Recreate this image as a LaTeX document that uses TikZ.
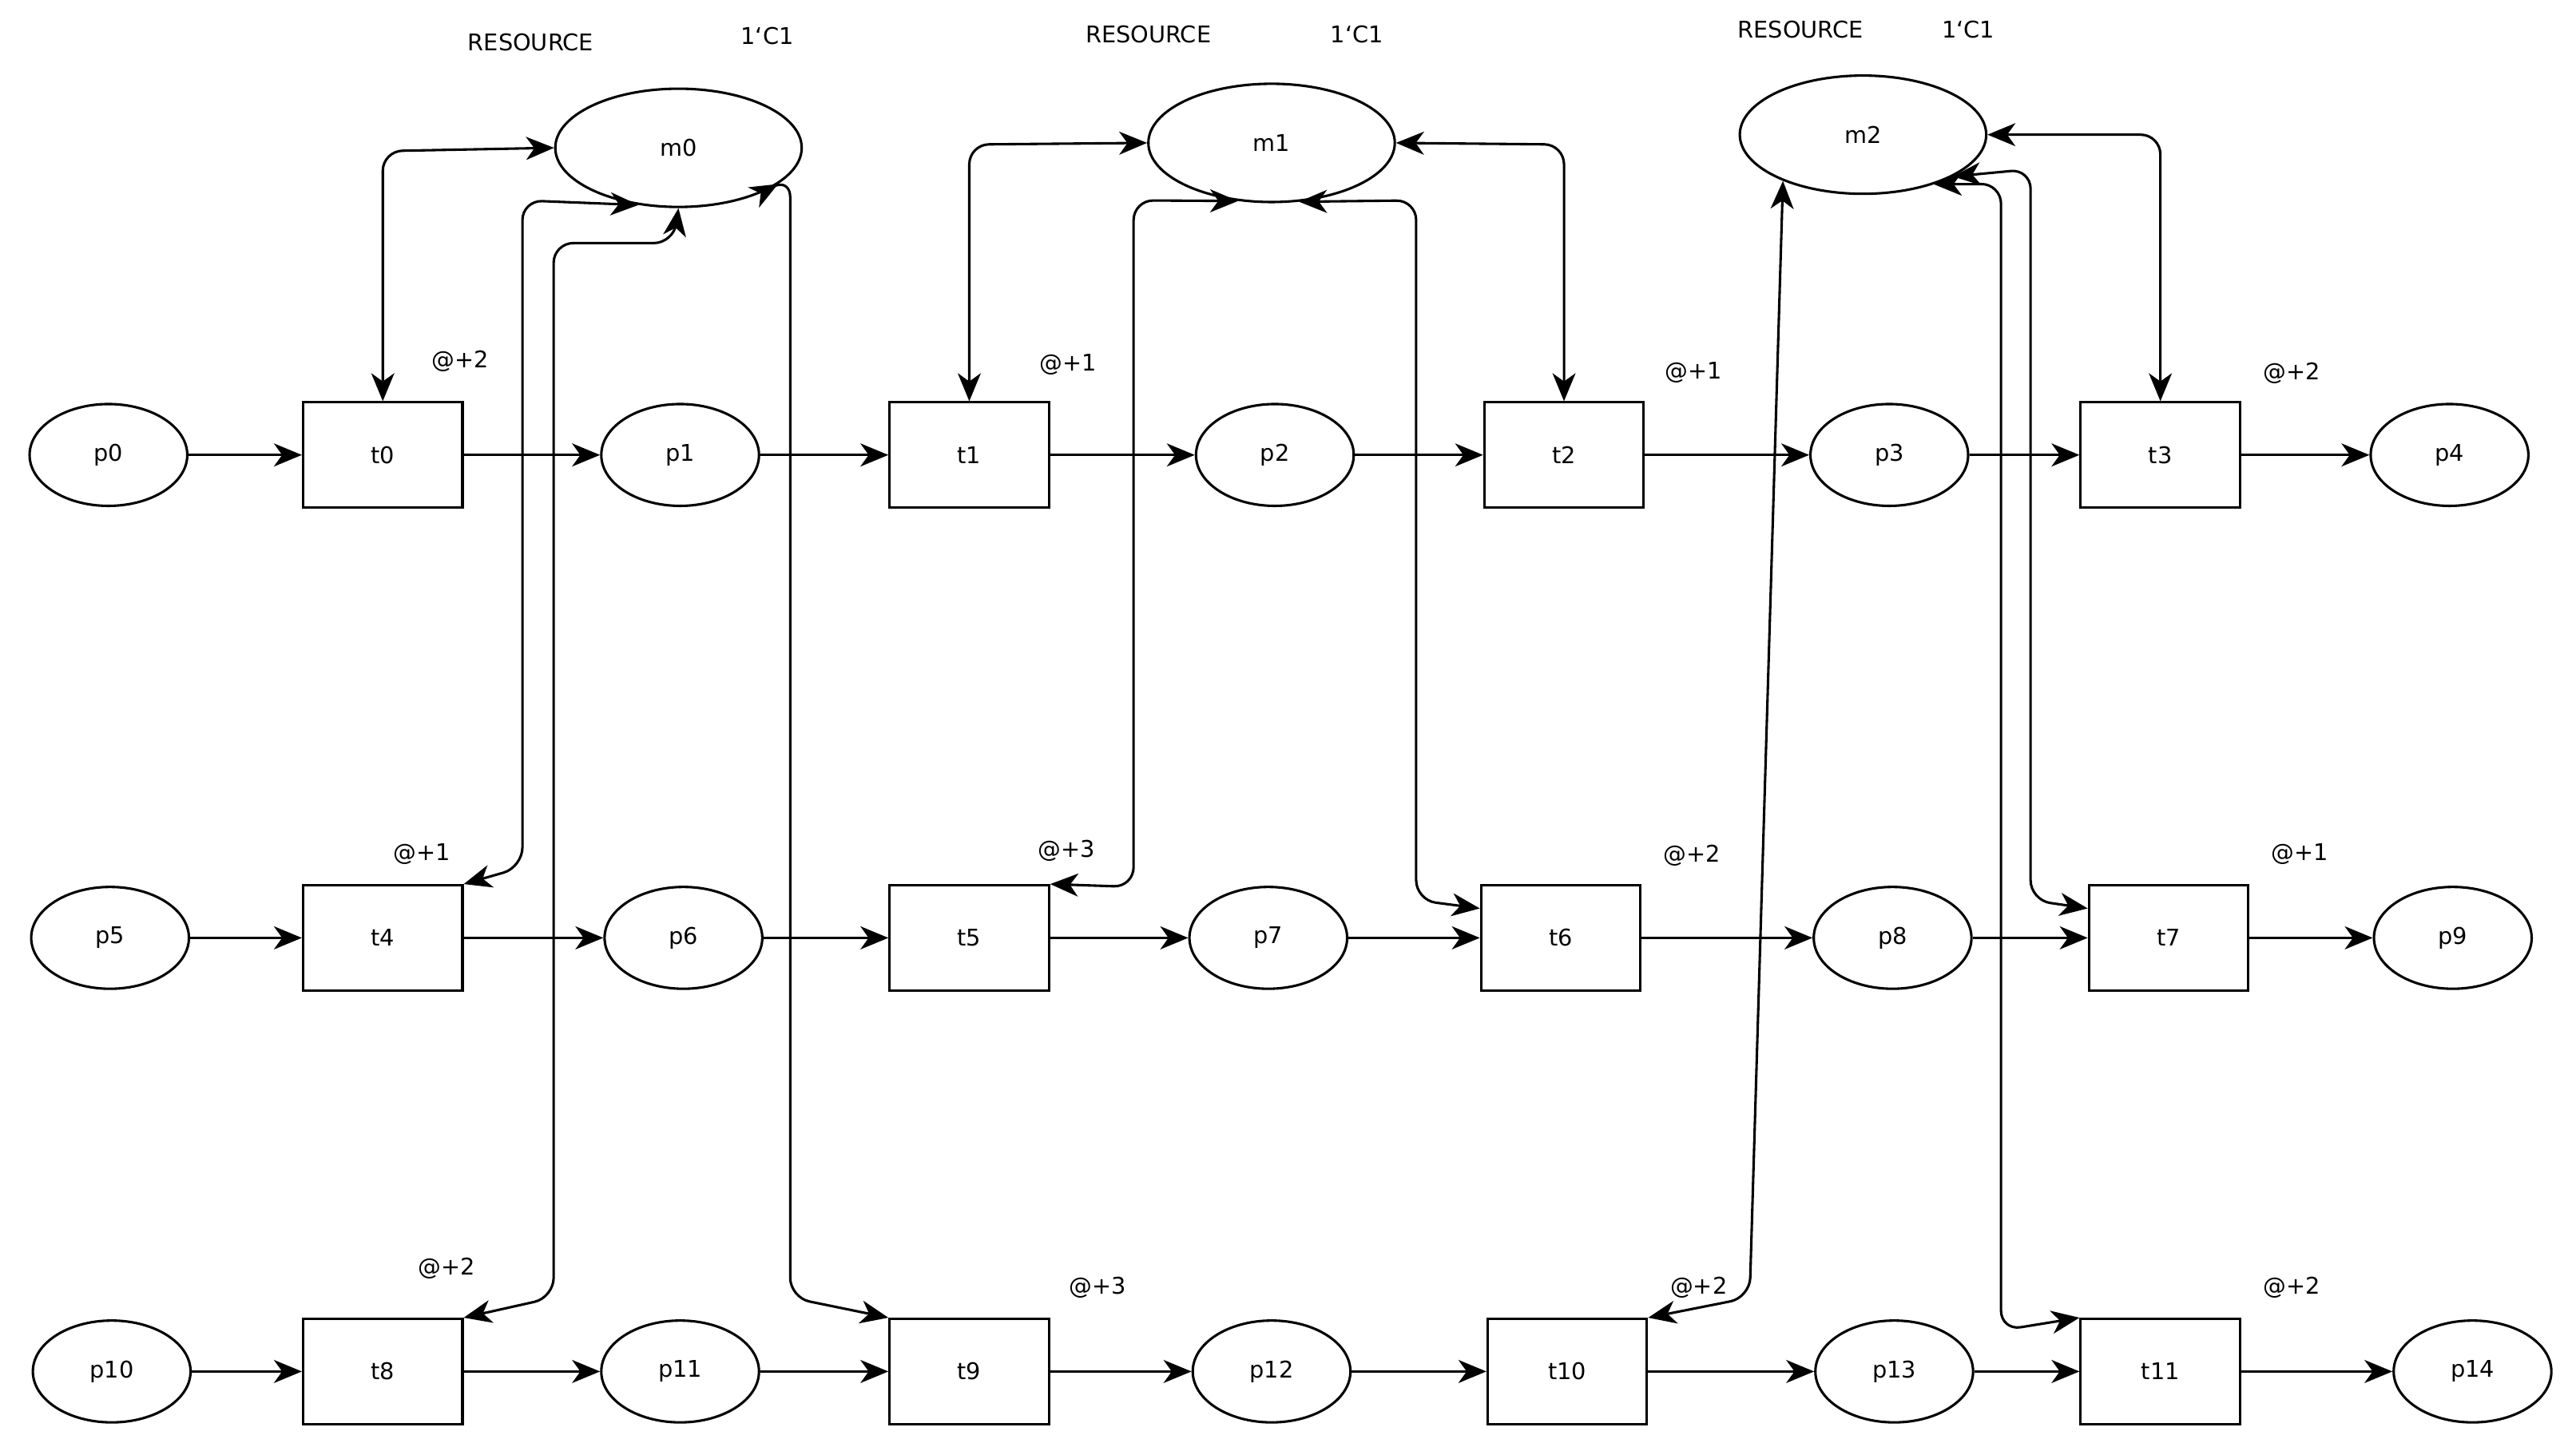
\documentclass[tikz,border=0pt]{standalone}
\usepackage{fontspec}
\setmainfont{DejaVu Sans}
\usetikzlibrary{arrows.meta,shapes.geometric}
\begin{document}
\begin{tikzpicture}[x=1pt,y=-1pt,
  every node/.style={font=\fontsize{14}{16}\selectfont},
  pl/.style={draw,ellipse,line width=1.5pt,minimum width=96pt,minimum height=62pt,inner sep=0pt},
  res/.style={draw,ellipse,line width=1.5pt,minimum width=150pt,minimum height=72pt,inner sep=0pt},
  tr/.style={draw,rectangle,line width=1.5pt,minimum width=97pt,minimum height=64pt,inner sep=0pt},
  lab/.style={inner sep=0pt},
  arc/.style={line width=1.5pt,-{Stealth[length=17pt,width=14pt,inset=5pt]}},
  darc/.style={line width=1.5pt,{Stealth[length=17pt,width=14pt,inset=5pt]}-{Stealth[length=17pt,width=14pt,inset=5pt]},rounded corners=12pt}]
\useasboundingbox (0,0) rectangle (1568,883);
% resources
\node[res] (m0) at (413,90) {m0};
\node[res] (m1) at (774,87) {m1};
\node[res] (m2) at (1134,82) {m2};
\node[lab] (r0) at (323,26) {RESOURCE};
\node[lab] (c0) at (467,22) {1`C1};
\node[lab] (r1) at (699,21) {RESOURCE};
\node[lab] (c1) at (826,21) {1`C1};
\node[lab] (r2) at (1096,18) {RESOURCE};
\node[lab] (c2) at (1198,18) {1`C1};
% row 1
\node[pl] (p0) at (66,277) {p0};
\node[tr] (t0) at (233,277) {t0};
\node[pl] (p1) at (414,277) {p1};
\node[tr] (t1) at (590,277) {t1};
\node[pl] (p2) at (776,277) {p2};
\node[tr] (t2) at (952,277) {t2};
\node[pl] (p3) at (1150,277) {p3};
\node[tr] (t3) at (1315,277) {t3};
\node[pl] (p4) at (1491,277) {p4};
% row 2
\node[pl] (p5) at (67,571) {p5};
\node[tr] (t4) at (233,571) {t4};
\node[pl] (p6) at (416,571) {p6};
\node[tr] (t5) at (590,571) {t5};
\node[pl] (p7) at (772,571) {p7};
\node[tr] (t6) at (950,571) {t6};
\node[pl] (p8) at (1152,571) {p8};
\node[tr] (t7) at (1320,571) {t7};
\node[pl] (p9) at (1493,571) {p9};
% row 3
\node[pl] (p10) at (68,835) {p10};
\node[tr] (t8) at (233,835) {t8};
\node[pl] (p11) at (414,835) {p11};
\node[tr] (t9) at (590,835) {t9};
\node[pl] (p12) at (774,835) {p12};
\node[tr] (t10) at (954,835) {t10};
\node[pl] (p13) at (1153,835) {p13};
\node[tr] (t11) at (1315,835) {t11};
\node[pl] (p14) at (1505,835) {p14};
% timing labels
\node[lab] (d0) at (280,220) {@+2};
\node[lab] (d1) at (650,222) {@+1};
\node[lab] (d2) at (1031,227) {@+1};
\node[lab] (d3) at (1395,227) {@+2};
\node[lab] (d4) at (257,520) {@+1};
\node[lab] (d5) at (649,518) {@+3};
\node[lab] (d6) at (1030,521) {@+2};
\node[lab] (d7) at (1400,520) {@+1};
\node[lab] (d8) at (272,772) {@+2};
\node[lab] (d9) at (668,784) {@+3};
\node[lab] (d10) at (1034,784) {@+2};
\node[lab] (d11) at (1395,784) {@+2};
% flow arcs
\foreach \a/\b in {p0/t0,t0/p1,p1/t1,t1/p2,p2/t2,t2/p3,p3/t3,t3/p4,
  p5/t4,t4/p6,p6/t5,t5/p7,p7/t6,t6/p8,p8/t7,t7/p9,
  p10/t8,t8/p11,p11/t9,t9/p12,p12/t10,t10/p13,p13/t11,t11/p14}
  \draw[arc] (\a) -- (\b);
% resource arcs
\draw[darc] (t0.north) -- (233,92) -- (m0.west);
\draw[darc] (t4.north east) -- (318,528) -- (318,122) -- (m0.-125);
\draw[darc] (t8.north east) -- (337,790) -- (337,148) -- (410,148) -- (m0.south);
\draw[darc] (m0.-20) -- (481,108) -- (481,790) -- (t9.north west);
\draw[darc] (t1.north) -- (590,88) -- (m1.west);
\draw[darc] (t5.north east) -- (690,540) -- (690,122) -- (m1.-120);
\draw[darc] (m1.-65) -- (862,122) -- (862,548) -- (t6.180-20);
\draw[darc] (t2.north) -- (952,88) -- (m1.east);
\draw[darc] (t10.north east) -- (1065,790) -- (m2.-150);
\draw[darc] (t3.north) -- (1315,82) -- (m2.east);
\draw[darc] (m2.-25) -- (1236,103) -- (1236,548) -- (t7.160);
\draw[darc] (m2.-35) -- (1218,112) -- (1218,810) -- (t11.north west);
\end{tikzpicture}
\end{document}
